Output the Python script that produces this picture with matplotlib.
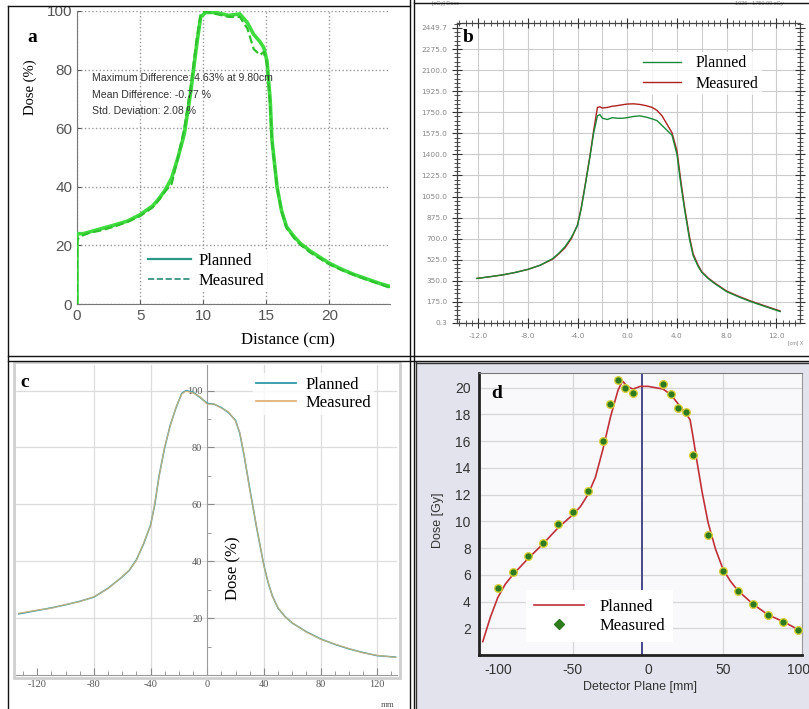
import matplotlib
matplotlib.use('Agg')
import matplotlib.pyplot as plt
from matplotlib.lines import Line2D
from matplotlib.patches import Rectangle
from matplotlib.ticker import MultipleLocator

plt.rcParams['axes.unicode_minus'] = False
SERIF = ['Liberation Serif', 'DejaVu Serif']
SANS = ['Liberation Sans', 'DejaVu Sans']

# ---------------- data ----------------
# panel a (distance cm, dose %)
a_x = [0, 0, 0.5, 1, 2, 3, 4, 5, 6, 6.5, 7, 7.5, 8, 8.5, 9, 9.5, 9.8, 10.2, 11, 12,
       12.9, 13.5, 14, 14.5, 14.8, 15.05, 15.3, 15.45, 15.85, 16.2, 16.6, 17.2, 17.7,
       18.5, 20, 21, 22, 23, 24, 24.8]
a_planned = [0, 24, 24, 24.6, 25.8, 27, 28.3, 30.5, 33.5, 36, 39, 43, 50, 58, 72, 89, 98,
             99.5, 99.5, 98.5, 99, 96, 92, 89.5, 87.5, 83, 70, 56, 40, 32, 26.4, 23, 20.7,
             18, 13.9, 11.8, 10, 8.5, 7, 6]
a_measured = [0, 22, 23.5, 24.3, 25.2, 26.5, 28, 30, 33, 35.5, 38.5, 41, 50, 60, 74, 91, 99,
              100, 99, 98, 98, 94, 87, 85, 86, 82, 68, 55, 40, 31.5, 26, 22.5, 20.2, 17.5,
              13.5, 11.5, 9.8, 8.2, 6.8, 5.5]
a_stats = ["Maximum Difference: 4.63% at 9.80cm", "Mean Difference: -0.77 %",
           "Std. Deviation: 2.08 %"]

# panel b (X cm, dose cGy)
b_x = [-12.1, -11, -10, -9, -8, -7, -6, -5.5, -5, -4.5, -4, -3.7, -3.4, -3, -2.7, -2.4,
       -2.2, -2.0, -1.6, -1.2, -0.8, -0.4, 0, 0.5, 1, 1.5, 2, 2.4, 2.8, 3.2, 3.6, 4, 4.3,
       4.6, 5, 5.3, 5.7, 6, 6.5, 7, 8, 9, 10, 11, 12.3]
b_planned = [370, 385, 400, 420, 445, 480, 535, 580, 635, 710, 810, 950, 1130, 1380, 1580,
             1720, 1730, 1700, 1690, 1705, 1700, 1700, 1705, 1715, 1720, 1710, 1695, 1680,
             1640, 1600, 1560, 1400, 1160, 950, 700, 560, 470, 420, 370, 330, 260, 215,
             175, 140, 95]
b_measured = [370, 385, 400, 420, 445, 480, 530, 575, 625, 700, 815, 960, 1140, 1390, 1600,
              1790, 1795, 1785, 1790, 1800, 1805, 1812, 1818, 1820, 1815, 1805, 1790, 1765,
              1720, 1650, 1580, 1430, 1190, 970, 720, 575, 480, 425, 375, 335, 265, 220,
              180, 145, 100]
b_yticks = [0.3, 175, 350, 525, 700, 875, 1050, 1225, 1400, 1575, 1750, 1925, 2100, 2275, 2449.7]
b_xticks = [-12, -8, -4, 0, 4, 8, 12]

# panel c (mm, dose %)
c_x = [-133, -120, -110, -100, -90, -80, -70, -60, -55, -50, -45, -40, -37, -34, -30, -26,
       -22, -18, -15, -10, -5, 0, 5, 10, 15, 20, 23, 26, 30, 35, 40, 43, 46, 50, 55, 60,
       70, 80, 90, 100, 110, 120, 133]
c_planned = [21.5, 22.7, 23.6, 24.7, 25.9, 27.4, 30.5, 34.5, 36.8, 40.5, 46, 52.7, 60, 70,
             80, 88, 94, 99, 100, 99.4, 97.6, 95.5, 95.2, 94, 92.3, 89.5, 85, 77.3, 65.6,
             51.5, 38.6, 32.5, 27.8, 23.5, 20.5, 18.3, 15.2, 12.7, 10.8, 9.2, 7.9, 6.8, 6.3]
c_measured = [21.7, 22.8, 23.5, 24.8, 25.8, 27.5, 30.4, 34.6, 36.9, 40.3, 46.2, 52.5, 60.3,
              69.7, 80.3, 87.8, 94.2, 98.8, 99.8, 99.2, 97.8, 95.2, 95.3, 93.8, 92.5, 89.3,
              85.3, 77.6, 65.3, 51.8, 38.4, 32.7, 27.6, 23.7, 20.4, 18.4, 15.1, 12.6, 10.9,
              9.3, 7.8, 6.9, 6.2]

# panel d (detector plane mm, dose Gy)
d_line_x = [-110, -105, -100, -95, -90, -80, -70, -60, -50, -45, -40, -35, -30, -25, -20,
            -17, -14, -10, -5, 0, 5, 10, 15, 20, 25, 28, 30, 33, 36, 40, 45, 50, 55, 60,
            70, 80, 90, 100]
d_planned = [1.0, 2.8, 4.3, 5.3, 6.0, 7.2, 8.3, 9.5, 10.5, 11.1, 12.0, 13.3, 15.4, 17.8,
             19.8, 20.5, 20.1, 19.9, 20.1, 20.1, 20.0, 19.9, 19.5, 18.8, 18.1, 17.6, 16.3,
             14.2, 12.2, 9.9, 7.9, 6.4, 5.5, 4.8, 3.8, 3.0, 2.5, 1.9]
d_meas_x = [-100, -90, -80, -70, -60, -50, -40, -30, -25, -20, -15, -10, 10, 15, 20, 25,
            30, 40, 50, 60, 70, 80, 90, 100]
d_measured = [5.0, 6.2, 7.4, 8.4, 9.8, 10.7, 12.3, 16.0, 18.8, 20.6, 20.0, 19.6, 20.3,
              19.5, 18.5, 18.2, 15.0, 9.0, 6.3, 4.8, 3.8, 3.0, 2.5, 1.9]
d_center = -4

# ---------------- figure ----------------
W, H = 809, 709
fig = plt.figure(figsize=(W / 100, H / 100), dpi=100)
fig.patch.set_facecolor('white')


def axpx(x0, y0, x1, y1, **kw):
    return fig.add_axes([x0 / W, 1 - y1 / H, (x1 - x0) / W, (y1 - y0) / H], **kw)


def fline(xs, ys, **kw):
    fig.add_artist(Line2D([x / W for x in xs], [1 - y / H for y in ys],
                          transform=fig.transFigure, **kw))


def frect(x0, y0, x1, y1, **kw):
    fig.add_artist(Rectangle((x0 / W, 1 - y1 / H), (x1 - x0) / W, (y1 - y0) / H,
                             transform=fig.transFigure, **kw))


def ftext(x, y, s, **kw):
    fig.text(x / W, 1 - y / H, s, **kw)


# panel d background
frect(416, 362, 809, 709, facecolor='#e3e3ee', edgecolor='none', zorder=-5)

# ---------------- panel a ----------------
ax = axpx(77, 11, 390, 304)
ax.plot(a_x, a_planned, color='#3fdc3f', lw=2.6, zorder=3)
ax.plot(a_x, a_measured, color='#2fc22f', lw=1.6, ls='--', zorder=4)
ax.set_xlim(0, 24.8)
ax.set_ylim(0, 100)
ax.set_xticks([0, 5, 10, 15, 20])
ax.set_yticks([0, 20, 40, 60, 80, 100])
for s in ['top', 'right']:
    ax.spines[s].set_visible(False)
for s in ['left', 'bottom']:
    ax.spines[s].set_color('#777777')
ax.grid(True, ls=':', color='#999999', lw=1.0)
ax.tick_params(labelsize=11, colors='#555555', length=3, direction='in')
for lab in ax.get_xticklabels() + ax.get_yticklabels():
    lab.set_family(SANS)
for i, s in enumerate(a_stats):
    ax.text(1.2, 76 - i * 5.6, s, fontsize=7.6, family=SANS, color='#333333', zorder=5)
ha = [Line2D([], [], color='#2a9a86', lw=1.6), Line2D([], [], color='#2a8a76', lw=1.2, ls='--')]
leg = ax.legend(ha, ['Planned', 'Measured'], loc='upper left', bbox_to_anchor=(0.19, 0.215),
                prop={'family': SERIF, 'size': 12}, frameon=True, handlelength=2.6,
                labelspacing=0.25, borderpad=0.2, handletextpad=0.4)
leg.get_frame().set_facecolor('white')
leg.get_frame().set_edgecolor('none')
leg.get_frame().set_alpha(1)
leg.set_zorder(6)
ftext(30, 87, 'Dose (%)', rotation=90, ha='center', va='center', family=SERIF, fontsize=10.5)
ftext(288, 340, 'Distance (cm)', ha='center', va='center', family=SERIF, fontsize=12)
ftext(32, 37, 'a', ha='center', va='center', family=SERIF, fontsize=14, weight='bold')

# ---------------- panel b ----------------
bx = axpx(457, 23, 800, 323)
bx.plot(b_x, b_measured, color='#b02020', lw=1.0, zorder=3)
bx.plot(b_x, b_planned, color='#1a8a3a', lw=1.0, zorder=4)
bx.set_xlim(-13.7, 13.9)
bx.set_ylim(0, 2491)
bx.set_xticks(b_xticks)
bx.set_xticklabels(['%.1f' % v for v in b_xticks])
bx.set_yticks(b_yticks)
bx.set_yticklabels(['%.1f' % v for v in b_yticks])
bx.xaxis.set_minor_locator(MultipleLocator(0.5))
bx.yaxis.set_minor_locator(MultipleLocator(35))
bx.tick_params(which='both', top=True, right=True, direction='inout', colors='#333333')
bx.tick_params(which='major', length=7, labelsize=5.3, labelcolor='#888888', width=0.8)
bx.tick_params(which='minor', length=4, width=0.6)
for s in bx.spines.values():
    s.set_color('#444444')
    s.set_linewidth(0.9)
for v in range(-12, 14, 2):
    bx.axvline(v, color='#cccccc', lw=0.8, zorder=1)
for v in b_yticks[1:-1]:
    bx.axhline(v, color='#cccccc', lw=0.8, zorder=1)
hb = [Line2D([], [], color='#1a8a3a', lw=1.0), Line2D([], [], color='#b02020', lw=1.0)]
lb = bx.legend(hb, ['Planned', 'Measured'], loc='upper left', bbox_to_anchor=(0.51, 0.93),
               prop={'family': SERIF, 'size': 11.5}, frameon=True, handlelength=2.4,
               labelspacing=0.3, borderpad=0.2, handletextpad=0.9)
lb.get_frame().set_facecolor('white')
lb.get_frame().set_edgecolor('none')
ftext(468, 38, 'b', ha='center', va='center', family=SERIF, fontsize=14, weight='bold')
ftext(432, 4, '[cGy] Dose', fontsize=4, color='#888888', va='center', family=SANS)
ftext(735, 4, '1026 - 1750.00 cGy', fontsize=4, color='#888888', va='center', family=SANS)
ftext(788, 343, '[cm] X', fontsize=4, color='#888888', va='center', family=SANS)

# ---------------- panel c ----------------
frect(14, 362, 400, 678, facecolor='white', edgecolor='#cfcfcf', lw=2, zorder=-4)
cx = axpx(16, 365, 397, 675)
cx.plot(c_x, c_planned, color='#2e9aa6', lw=1.1, zorder=3)
cx.plot(c_x, c_measured, color='#e0b27a', lw=0.9, alpha=0.8, zorder=4)
cx.set_xlim(-135, 134)
cx.set_ylim(0, 109)
cx.spines['left'].set_position(('data', 0))
for s in ['top', 'right']:
    cx.spines[s].set_visible(False)
cx.spines['left'].set_color('#9a9a9a')
cx.spines['bottom'].set_color('#9a9a9a')
cx.set_xticks([-120, -80, -40, 0, 40, 80, 120])
cx.set_yticks([20, 40, 60, 80, 100])
cx.xaxis.set_minor_locator(MultipleLocator(10))
cx.yaxis.set_minor_locator(MultipleLocator(10))
cx.tick_params(which='both', direction='in', colors='#8a8a8a')
cx.tick_params(which='major', length=5, labelsize=7.5, labelcolor='#555555')
cx.tick_params(which='minor', length=3)
for lab in cx.get_xticklabels() + cx.get_yticklabels():
    lab.set_family(SERIF)
for v in [-80, -40, 40, 80, 120]:
    cx.axvline(v, color='#dddddd', lw=0.9, zorder=1)
for v in [20, 40, 60, 80, 100]:
    cx.axhline(v, color='#dddddd', lw=0.9, zorder=1)
hc = [Line2D([], [], color='#2e9aa6', lw=1.3), Line2D([], [], color='#e0b27a', lw=1.3)]
lc = cx.legend(hc, ['Planned', 'Measured'], loc='upper left', bbox_to_anchor=(0.6, 1.0),
               prop={'family': SERIF, 'size': 12}, frameon=True, handlelength=2.4,
               labelspacing=0.15, borderpad=0.2, handletextpad=0.55)
lc.get_frame().set_facecolor('white')
lc.get_frame().set_edgecolor('none')
ftext(233, 568, 'Dose (%)', rotation=90, ha='center', va='center', family=SERIF, fontsize=12)
ftext(388, 705, 'mm', ha='center', va='center', family=SERIF, fontsize=6.5, color='#555555')
ftext(25, 382, 'c', ha='center', va='center', family=SERIF, fontsize=14, weight='bold')

# ---------------- panel d ----------------
dx = axpx(479, 373, 802, 655)
dx.set_facecolor('#f9f9fc')
dx.plot(d_line_x, d_planned, color='#c0303a', lw=1.2, zorder=3)
dx.plot(d_meas_x, d_measured, ls='none', marker='o', ms=5.5, mfc='#2e7a1e',
        mec='#d8d040', mew=1.0, zorder=4)
dx.axvline(d_center, color='#3a3a80', lw=1.3, zorder=2)
dx.set_xlim(-112.5, 102.5)
dx.set_ylim(0, 21.1)
dx.set_xticks([-100, -50, 0, 50, 100])
dx.set_yticks(list(range(2, 21, 2)))
for v in [-50, 50]:
    dx.axvline(v, color='#d6d6d6', lw=0.9, zorder=1)
for v in range(2, 21, 2):
    dx.axhline(v, color='#d6d6d6', lw=0.9, zorder=1)
dx.spines['left'].set_linewidth(2.0)
dx.spines['bottom'].set_linewidth(2.0)
dx.spines['left'].set_color('#222222')
dx.spines['bottom'].set_color('#222222')
dx.spines['top'].set_color('#777777')
dx.spines['right'].set_color('#999999')
dx.tick_params(length=0, labelsize=10, labelcolor='#333333', pad=6)
for lab in dx.get_xticklabels() + dx.get_yticklabels():
    lab.set_family(SANS)
hd = [Line2D([], [], color='#c0303a', lw=1.2),
      Line2D([], [], ls='none', marker='D', ms=5, mfc='#2e7a1e', mec='#2e7a1e')]
ld = dx.legend(hd, ['Planned', 'Measured'], loc='lower left', bbox_to_anchor=(0.12, 0.015),
               prop={'family': SERIF, 'size': 12}, frameon=True, handlelength=3.0,
               labelspacing=0.2, borderpad=0.5, handletextpad=0.9, fancybox=False)
ld.get_frame().set_facecolor('white')
ld.get_frame().set_edgecolor('none')
ld.get_frame().set_alpha(1)
ftext(438, 520, 'Dose [Gy]', rotation=90, ha='center', va='center', family=SANS,
      fontsize=9, color='#333333')
ftext(640, 687, 'Detector Plane [mm]', ha='center', va='center', family=SANS,
      fontsize=9, color='#333333')
ftext(497, 393, 'd', ha='center', va='center', family=SERIF, fontsize=14, weight='bold')

# ---------------- panel borders ----------------
kw = dict(color='#111111', lw=1.0, zorder=20)
fline([8, 8], [6, 709], **kw)
fline([8, 410], [6, 6], **kw)
fline([414, 809], [3, 3], **kw)
fline([410.5, 410.5], [0, 709], **kw)
fline([414, 414], [0, 709], **kw)
fline([8, 809], [356, 356], **kw)
fline([8, 809], [360.5, 360.5], **kw)
fline([416, 416], [362, 709], color='#333333', lw=1.0, zorder=20)
fline([416, 809], [362.5, 362.5], color='#333333', lw=1.0, zorder=20)

fig.savefig('out.png', dpi=100, facecolor='white')
